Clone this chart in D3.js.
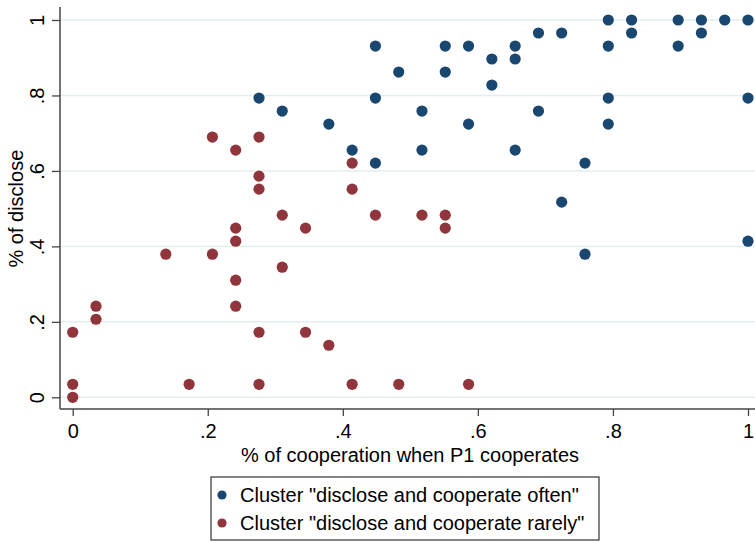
<!DOCTYPE html>
<html>
<head>
<meta charset="utf-8">
<script src="https://cdn.jsdelivr.net/npm/d3@7"></script>
<style>
  body { margin: 0; background: #fff; }
  svg text { font-family: "Liberation Sans", Arial, sans-serif; fill: #000; }
  .axis .domain { display: none; }
  .axis line { stroke: #444; stroke-width: 1.3; }
  .axis text { font-size: 20px; }
</style>
</head>
<body>
<div id="chart-area"><svg></svg></div>
<script>
const chartSize = { width: 755, height: 542 };
const axisPos = { left: 60, bottom: 409, top: 7 };

const tickValues = [0, 0.2, 0.4, 0.6, 0.8, 1];
const tickLabels = ["0", ".2", ".4", ".6", ".8", "1"];

// cluster "disclose and cooperate often"
const oftenCoop = [0.2759, 0.3103, 0.3793, 0.4138, 0.4483, 0.4483, 0.4483, 0.4828, 0.5172, 0.5172,
  0.5517, 0.5517, 0.5862, 0.5862, 0.6207, 0.6207, 0.6552, 0.6552, 0.6552, 0.6897,
  0.6897, 0.7241, 0.7241, 0.7586, 0.7586, 0.7931, 0.7931, 0.7931, 0.7931, 0.8276,
  0.8276, 0.8966, 0.8966, 0.931, 0.931, 0.9655, 1, 1, 1];
const oftenDisc = [0.7931, 0.7586, 0.7241, 0.6552, 0.931, 0.7931, 0.6207, 0.8621, 0.7586, 0.6552,
  0.931, 0.8621, 0.931, 0.7241, 0.8966, 0.8276, 0.931, 0.8966, 0.6552, 0.9655,
  0.7586, 0.9655, 0.5172, 0.6207, 0.3793, 1, 0.931, 0.7931, 0.7241, 1,
  0.9655, 1, 0.931, 1, 0.9655, 1, 1, 0.7931, 0.4138];

// cluster "disclose and cooperate rarely"
const rarelyCoop = [0, 0, 0, 0.0345, 0.0345, 0.1379, 0.1724, 0.2069, 0.2069, 0.2414,
  0.2414, 0.2414, 0.2414, 0.2414, 0.2759, 0.2759, 0.2759, 0.2759, 0.2759, 0.3103,
  0.3103, 0.3448, 0.3448, 0.3793, 0.4138, 0.4138, 0.4138, 0.4483, 0.4828, 0.5172,
  0.5517, 0.5517, 0.5862];
const rarelyDisc = [0, 0.0345, 0.1724, 0.2069, 0.2414, 0.3793, 0.0345, 0.3793, 0.6897, 0.2414,
  0.3103, 0.4138, 0.4483, 0.6552, 0.0345, 0.1724, 0.5517, 0.5862, 0.6897, 0.3448,
  0.4828, 0.1724, 0.4483, 0.1379, 0.0345, 0.5517, 0.6207, 0.4828, 0.0345, 0.4828,
  0.4483, 0.4828, 0.0345];

const clusters = [
  { name: 'Cluster "disclose and cooperate often"', color: "#1a476f", xs: oftenCoop, ys: oftenDisc },
  { name: 'Cluster "disclose and cooperate rarely"', color: "#90353b", xs: rarelyCoop, ys: rarelyDisc }
];

const x = d3.scaleLinear().domain([0, 1]).range([72.7, 748]);
const y = d3.scaleLinear().domain([0, 1]).range([397.3, 20]);

const svg = d3.select('#chart-area svg')
  .attr('width', chartSize.width)
  .attr('height', chartSize.height);

// grid
svg.append('g')
  .selectAll('line')
  .data(tickValues)
  .enter()
  .append('line')
  .attr('x1', axisPos.left)
  .attr('x2', chartSize.width)
  .attr('y1', d => y(d))
  .attr('y2', d => y(d))
  .attr('stroke', '#e4eef1')
  .attr('stroke-width', 1.5);

// axes
const fmt = d => tickLabels[tickValues.indexOf(d)];

const xAxis = svg.append('g')
  .attr('class', 'axis x-axis')
  .attr('transform', `translate(0,${axisPos.bottom})`)
  .call(d3.axisBottom(x).tickValues(tickValues).tickFormat(fmt).tickSize(7).tickPadding(6));
xAxis.selectAll('text').attr('dy', '0.71em').attr('y', 15);

const yAxis = svg.append('g')
  .attr('class', 'axis y-axis')
  .attr('transform', `translate(${axisPos.left},0)`)
  .call(d3.axisLeft(y).tickValues(tickValues).tickFormat(fmt).tickSize(8));
yAxis.selectAll('text')
  .attr('transform', 'rotate(-90)')
  .attr('x', 0)
  .attr('y', -16)
  .attr('dy', 0)
  .attr('text-anchor', 'middle');

svg.append('line')
  .attr('x1', axisPos.left).attr('x2', axisPos.left)
  .attr('y1', axisPos.top).attr('y2', axisPos.bottom)
  .attr('stroke', '#444').attr('stroke-width', 1.5);
svg.append('line')
  .attr('x1', axisPos.left).attr('x2', chartSize.width)
  .attr('y1', axisPos.bottom).attr('y2', axisPos.bottom)
  .attr('stroke', '#444').attr('stroke-width', 1.5);

// axis titles
svg.append('text')
  .attr('x', 410)
  .attr('y', 462)
  .attr('text-anchor', 'middle')
  .attr('font-size', 20)
  .text('% of cooperation when P1 cooperates');

svg.append('text')
  .attr('transform', `translate(23,${y(0.5)}) rotate(-90)`)
  .attr('text-anchor', 'middle')
  .attr('font-size', 20)
  .text('% of disclose');

// points
clusters.forEach(c => {
  svg.append('g')
    .selectAll('circle')
    .data(c.xs.map((v, i) => [v, c.ys[i]]))
    .enter()
    .append('circle')
    .attr('cx', d => x(d[0]))
    .attr('cy', d => y(d[1]))
    .attr('r', 5.6)
    .attr('fill', c.color);
});

// legend
const legend = svg.append('g').attr('transform', 'translate(211,477)');
legend.append('rect')
  .attr('x', 0).attr('y', 0)
  .attr('width', 388).attr('height', 63)
  .attr('fill', '#fff')
  .attr('stroke', '#333')
  .attr('stroke-width', 1.2);
const items = legend.selectAll('.item')
  .data(clusters)
  .enter()
  .append('g')
  .attr('class', 'item')
  .attr('transform', (d, i) => `translate(0,${18 + i * 28})`);
items.append('circle')
  .attr('cx', 11).attr('cy', 0).attr('r', 4.6)
  .attr('fill', d => d.color);
items.append('text')
  .attr('x', 29).attr('y', 7)
  .attr('font-size', 20)
  .text(d => d.name);
</script>
</body>
</html>
